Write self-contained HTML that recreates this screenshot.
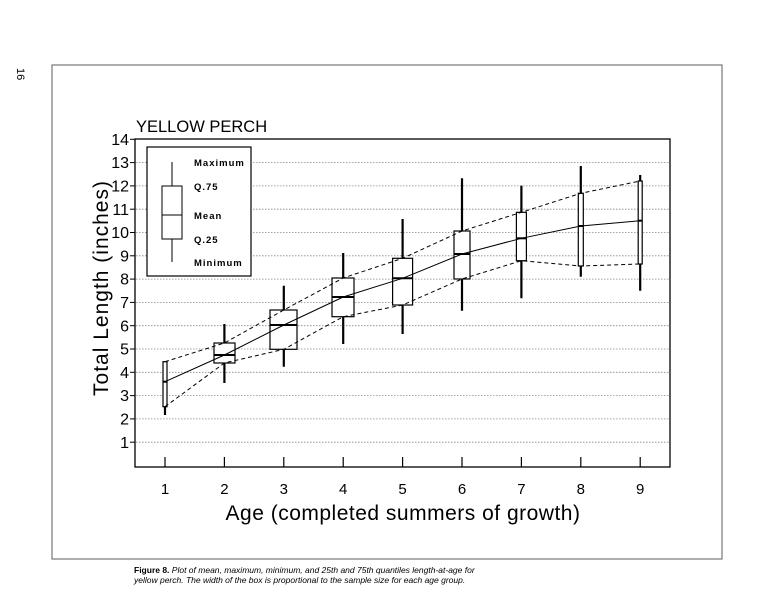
<!DOCTYPE html>
<html><head><meta charset="utf-8"><style>
html,body{margin:0;padding:0;background:#fff;}
svg{display:block;font-family:"Liberation Sans",Arial,sans-serif;}
</style></head><body>
<svg width="778" height="600" viewBox="0 0 778 600" xmlns="http://www.w3.org/2000/svg">
<rect x="52" y="65" width="670" height="494" fill="none" stroke="#777" stroke-width="1.2"/>
<text x="0" y="0" transform="translate(17,68) rotate(90)" font-size="11">16</text>
<text x="136" y="132" font-size="16.5">YELLOW PERCH</text>
<g stroke="#888" stroke-width="0.8" stroke-dasharray="1.5,1.5">
<line x1="136" x2="670" y1="442.2" y2="442.2"/><line x1="136" x2="670" y1="418.9" y2="418.9"/>
<line x1="136" x2="670" y1="395.6" y2="395.6"/><line x1="136" x2="670" y1="372.3" y2="372.3"/>
<line x1="136" x2="670" y1="349" y2="349"/><line x1="136" x2="670" y1="325.7" y2="325.7"/>
<line x1="136" x2="670" y1="302.4" y2="302.4"/><line x1="136" x2="670" y1="279.1" y2="279.1"/>
<line x1="136" x2="670" y1="255.8" y2="255.8"/><line x1="136" x2="670" y1="232.5" y2="232.5"/>
<line x1="136" x2="670" y1="209.2" y2="209.2"/><line x1="136" x2="670" y1="185.9" y2="185.9"/>
<line x1="136" x2="670" y1="162.6" y2="162.6"/>
</g>
<rect x="135" y="139" width="535" height="328" fill="none" stroke="#000" stroke-width="1.3"/>
<g stroke="#000" stroke-width="1">
<line x1="130" x2="135" y1="442.2" y2="442.2"/><line x1="130" x2="135" y1="418.9" y2="418.9"/><line x1="130" x2="135" y1="395.6" y2="395.6"/><line x1="130" x2="135" y1="372.3" y2="372.3"/><line x1="130" x2="135" y1="349" y2="349"/><line x1="130" x2="135" y1="325.7" y2="325.7"/><line x1="130" x2="135" y1="302.4" y2="302.4"/><line x1="130" x2="135" y1="279.1" y2="279.1"/><line x1="130" x2="135" y1="255.8" y2="255.8"/><line x1="130" x2="135" y1="232.5" y2="232.5"/><line x1="130" x2="135" y1="209.2" y2="209.2"/><line x1="130" x2="135" y1="185.9" y2="185.9"/><line x1="130" x2="135" y1="162.6" y2="162.6"/><line x1="130" x2="135" y1="139.3" y2="139.3"/>
</g>
<g font-size="16" text-anchor="end">
<text x="129" y="447.8">1</text><text x="129" y="424.5">2</text><text x="129" y="401.2">3</text><text x="129" y="377.9">4</text><text x="129" y="354.6">5</text><text x="129" y="331.3">6</text><text x="129" y="308">7</text><text x="129" y="284.7">8</text><text x="129" y="261.4">9</text><text x="129" y="238.1">10</text><text x="129" y="214.8">11</text><text x="129" y="191.5">12</text><text x="129" y="168.2">13</text><text x="129" y="144.9">14</text>
</g>
<text transform="translate(108,288) rotate(-90)" font-size="21" text-anchor="middle" letter-spacing="1">Total Length  (inches)</text>
<g stroke="#000" stroke-width="1.2">
<line x1="165" x2="165" y1="457" y2="467"/><line x1="224.4" x2="224.4" y1="457" y2="467"/><line x1="283.8" x2="283.8" y1="457" y2="467"/><line x1="343.2" x2="343.2" y1="457" y2="467"/><line x1="402.6" x2="402.6" y1="457" y2="467"/><line x1="462" x2="462" y1="457" y2="467"/><line x1="521.4" x2="521.4" y1="457" y2="467"/><line x1="580.8" x2="580.8" y1="457" y2="467"/><line x1="640.2" x2="640.2" y1="457" y2="467"/>
</g>
<g font-size="15" text-anchor="middle">
<text x="165" y="494">1</text><text x="224.4" y="494">2</text><text x="283.8" y="494">3</text><text x="343.2" y="494">4</text><text x="402.6" y="494">5</text><text x="462" y="494">6</text><text x="521.4" y="494">7</text><text x="580.8" y="494">8</text><text x="640.2" y="494">9</text>
</g>
<text x="403" y="520" font-size="21" text-anchor="middle" letter-spacing="0.5">Age (completed summers of growth)</text>
<g stroke="#000" stroke-width="2.2">
<line x1="165" x2="165" y1="361.7" y2="415"/>
<line x1="224.4" x2="224.4" y1="324" y2="383"/>
<line x1="283.8" x2="283.8" y1="285.7" y2="366.7"/>
<line x1="343.2" x2="343.2" y1="253" y2="344"/>
<line x1="402.6" x2="402.6" y1="219" y2="334"/>
<line x1="462" x2="462" y1="178.3" y2="310.7"/>
<line x1="521.4" x2="521.4" y1="185.7" y2="298.3"/>
<line x1="580.8" x2="580.8" y1="166" y2="276.7"/>
<line x1="640.2" x2="640.2" y1="175" y2="290.7"/>
</g>
<g fill="#fff" stroke="#000" stroke-width="1.2">
<rect x="163" y="361.7" width="4" height="45"/>
<rect x="214" y="343" width="21" height="20"/>
<rect x="270" y="310" width="27" height="39.3"/>
<rect x="332" y="278" width="22" height="38.7"/>
<rect x="392.6" y="258.3" width="20" height="46.7"/>
<rect x="454" y="231" width="16" height="48"/>
<rect x="516.4" y="212.3" width="10" height="48.4"/>
<rect x="578.3" y="193.3" width="5" height="72.7"/>
<rect x="638.2" y="181" width="4" height="83"/>
</g>
<g stroke="#000" stroke-width="2">
<line x1="163" x2="167" y1="381.7" y2="381.7"/>
<line x1="214" x2="235" y1="355" y2="355"/>
<line x1="270" x2="297" y1="325" y2="325"/>
<line x1="332" x2="354" y1="297" y2="297"/>
<line x1="392.6" x2="412.6" y1="278.3" y2="278.3"/>
<line x1="454" x2="470" y1="254" y2="254"/>
<line x1="516.4" x2="526.4" y1="238.3" y2="238.3"/>
<line x1="578.3" x2="583.3" y1="226" y2="226"/>
<line x1="638.2" x2="642.2" y1="220.7" y2="220.7"/>
</g>
<polyline fill="none" stroke="#000" stroke-width="1" points="165,381.7 224.4,355 283.8,325 343.2,297 402.6,278.3 462,254 521.4,238.3 580.8,226 640.2,220.7"/>
<g fill="none" stroke="#000" stroke-width="1" stroke-dasharray="4,3">
<polyline points="165,361.7 224.4,343 283.8,310 343.2,278 402.6,258.3 462,231 521.4,212.3 580.8,193.3 640.2,181"/>
<polyline points="165,406.7 224.4,363 283.8,349.3 343.2,316.7 402.6,305 462,279 521.4,260.7 580.8,266 640.2,264"/>
</g>
<rect x="147" y="147" width="104" height="129" fill="#fff" stroke="#000" stroke-width="1.2"/>
<line x1="172" x2="172" y1="162" y2="262" stroke="#000" stroke-width="1"/>
<rect x="162" y="186" width="20" height="53" fill="#fff" stroke="#000" stroke-width="1"/>
<line x1="162" x2="182" y1="215" y2="215" stroke="#000" stroke-width="1"/>
<g font-size="9.5" font-weight="bold" letter-spacing="1">
<text x="194" y="166">Maximum</text><text x="194" y="190">Q.75</text><text x="194" y="219">Mean</text><text x="194" y="243">Q.25</text><text x="194" y="266">Minimum</text>
</g>
<text x="134" y="573" font-size="8.5"><tspan font-weight="bold">Figure 8.</tspan><tspan font-style="italic">  Plot of mean, maximum, minimum, and 25th and 75th quantiles length-at-age for</tspan></text>
<text x="134" y="583" font-size="8.5" font-style="italic">yellow perch.  The width of the box is proportional to the sample size for each age group.</text>
</svg>
</body></html>
